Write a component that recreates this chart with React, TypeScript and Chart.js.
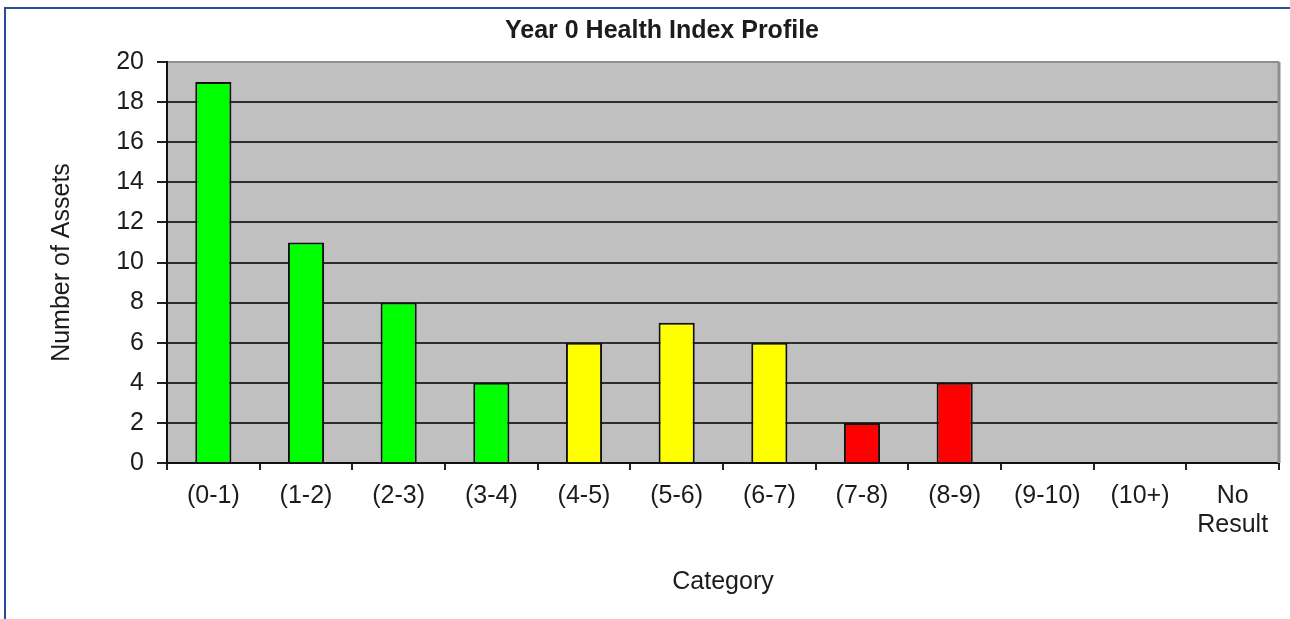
import React, { useEffect, useRef } from "react";
import { Chart, registerables } from "chart.js";

Chart.register(...registerables);

const categories: (string | string[])[] = [
  "(0-1)", "(1-2)", "(2-3)", "(3-4)", "(4-5)", "(5-6)",
  "(6-7)", "(7-8)", "(8-9)", "(9-10)", "(10+)", ["No", "Result"],
];
const assetCounts = [19, 11, 8, 4, 6, 7, 6, 2, 4, 0, 0, 0];
const barColors = [
  "#00ff00", "#00ff00", "#00ff00", "#00ff00",
  "#ffff00", "#ffff00", "#ffff00",
  "#ff0000", "#ff0000",
  "#ff0000", "#ff0000", "#ff0000",
];
const yMin = 0;
const yMax = 20;
const yStep = 2;
const chartTitle = "Year 0 Health Index Profile";
const xTitle = "Category";
const yTitle = "Number of Assets";

const FONT = "'Liberation Sans', Arial, sans-serif";
const TEXT = "#1c1c1c";

const decorPlugin = {
  id: "decor",
  beforeDraw(chart: any) {
    const { ctx, chartArea: a, width, height } = chart;
    ctx.save();
    ctx.fillStyle = "#c0c0c0";
    ctx.fillRect(a.left, a.top, a.right - a.left, a.bottom - a.top);
    // outer frame (blue)
    ctx.strokeStyle = "#2b4a9c";
    ctx.lineWidth = 2;
    ctx.beginPath();
    ctx.moveTo(width, 8);
    ctx.lineTo(5, 8);
    ctx.lineTo(5, height);
    ctx.stroke();
    ctx.restore();
  },
  afterDraw(chart: any) {
    const { ctx, chartArea: a } = chart;
    ctx.save();
    ctx.strokeStyle = "#8e8e8e";
    ctx.lineWidth = 3;
    ctx.beginPath();
    ctx.moveTo(a.right, a.top);
    ctx.lineTo(a.right, a.bottom);
    ctx.stroke();
    // chart title
    ctx.fillStyle = TEXT;
    ctx.font = `bold 25px ${FONT}`;
    ctx.textAlign = "center";
    ctx.textBaseline = "middle";
    ctx.fillText(chartTitle, 662, 31);
    ctx.restore();
  },
};

export default function App() {
  const ref = useRef<HTMLCanvasElement | null>(null);

  useEffect(() => {
    if (!ref.current) return;
    const chart = new Chart(ref.current, {
      type: "bar",
      data: {
        labels: categories,
        datasets: [
          {
            data: assetCounts,
            backgroundColor: barColors,
            borderColor: "#111111",
            borderWidth: 2,
            barPercentage: 0.39,
            categoryPercentage: 1,
          },
        ],
      },
      options: {
        responsive: false,
        animation: false,
        layout: { padding: { left: 0, right: 11, top: 62, bottom: 0 } },
        plugins: {
          legend: { display: false },
          tooltip: { enabled: false },
          title: { display: false },
        },
        scales: {
          x: {
            type: "category",
            offset: true,
            afterFit: (s: any) => {
              s.height = 156;
            },
            grid: {
              offset: true,
              drawOnChartArea: false,
              drawTicks: true,
              tickLength: 7,
              tickColor: "#222222",
              lineWidth: 2,
            },
            border: { display: true, color: "#111111", width: 2 },
            ticks: {
              color: TEXT,
              padding: 12,
              maxRotation: 0,
              autoSkip: false,
              font: { family: FONT, size: 25, lineHeight: 1.15 },
            },
            title: {
              display: true,
              text: xTitle,
              color: TEXT,
              font: { family: FONT, size: 25, lineHeight: 1.2 },
              padding: { top: 0, bottom: 22 },
            },
          },
          y: {
            min: yMin,
            max: yMax,
            afterFit: (s: any) => {
              s.width = 167;
            },
            grid: {
              color: (c: any) => (c.tick && c.tick.value === yMax ? "#8e8e8e" : "#2e2e2e"),
              tickColor: "#222222",
              lineWidth: 2,
              tickLength: 10,
            },
            border: { display: true, color: "#111111", width: 2 },
            ticks: {
              stepSize: yStep,
              color: TEXT,
              padding: 13,
              font: { family: FONT, size: 25 },
            },
            title: {
              display: true,
              text: yTitle,
              color: TEXT,
              font: { family: FONT, size: 25, lineHeight: 1.2 },
              padding: { top: 47, bottom: 0 },
            },
          },
        },
      },
      plugins: [decorPlugin],
    } as any);
    return () => chart.destroy();
  }, []);

  return (
    <div style={{ position: "absolute", left: 0, top: 0, width: 1290, height: 619, background: "#ffffff" }}>
      <canvas ref={ref} width={1290} height={619} style={{ display: "block", width: 1290, height: 619 }} />
    </div>
  );
}
